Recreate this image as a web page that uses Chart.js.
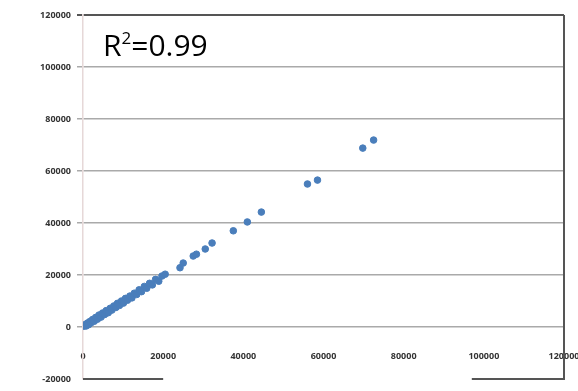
<!DOCTYPE html>
<html>
<head>
<meta charset="utf-8">
<script src="https://cdn.jsdelivr.net/npm/chart.js@4/dist/chart.umd.min.js"></script>
<style>
    html, body { margin: 0; padding: 0; background: #fff; }
    #wrap { width: 578px; height: 391px; }
</style>
</head>
<body>
<div id="wrap"><canvas id="chartR2"></canvas></div>
<script>
// valores
var xValues = [200, 500, 800, 1100, 1400, 1700, 2000, 2400, 2800, 3200, 3600, 4000, 4500, 4900, 5400,
    5800, 6300, 6800, 7200, 7700, 8200, 8600, 9100, 9600, 10100, 10600, 11100, 11700, 12200, 12800,
    13400, 14000, 14600, 15300, 15900, 16600, 17300, 18100, 18900, 19700,
    20500, 24200, 25000, 27500, 28300, 30500, 32200, 37500, 41000, 44500, 56000, 58500, 69800, 72500];
var yValues = [300, 900, 400, 1500, 900, 2100, 1600, 2900, 2200, 3700, 3000, 4600, 3800, 5400, 4800,
    6300, 5500, 7200, 6500, 8100, 7500, 9100, 8300, 10000, 9200, 11000, 10300, 11900, 11200, 13000,
    12500, 14300, 13600, 15600, 14900, 16800, 16200, 18300, 17600, 19600,
    20300, 22800, 24600, 27300, 28000, 30000, 32300, 37000, 40400, 44200, 55000, 56500, 68800, 71900];
var xTicks = [0, 20000, 40000, 60000, 80000, 100000, 120000];
var yTicks = [-20000, 0, 20000, 40000, 60000, 80000, 100000, 120000];
var r2Label = '0.99';

var GraficoR2 = function ()
{
    var _self = this;
    var chart;

    this.pontos = function ()
    {
        return xValues.map(function (x, i) {
            return {x: x, y: yValues[i]};
        });
    }

    // moldura (direita e trechos de baixo) e o texto R²
    this.molduraPlugin = {
        id: 'moldura',
        afterDraw: function (c) {
            var ctx = c.ctx;
            var a = c.chartArea;
            var xs = c.scales.x;
            ctx.save();
            ctx.strokeStyle = '#555';
            ctx.lineWidth = 2;
            ctx.beginPath();
            ctx.moveTo(a.right, a.top);
            ctx.lineTo(a.right, a.bottom);
            ctx.lineTo(xs.getPixelForValue(97000), a.bottom);
            ctx.moveTo(a.left, a.bottom);
            ctx.lineTo(xs.getPixelForValue(20000), a.bottom);
            ctx.stroke();

            ctx.fillStyle = '#000';
            ctx.textBaseline = 'alphabetic';
            ctx.font = '30px "Open Sans"';
            var tx = a.left + 20, ty = a.top + 41;
            ctx.fillText('R', tx, ty);
            tx += ctx.measureText('R').width;
            ctx.font = '17px "Open Sans"';
            ctx.fillText('2', tx, ty - 12);
            tx += ctx.measureText('2').width;
            ctx.font = '30px "Open Sans"';
            ctx.fillText('=' + r2Label, tx, ty);
            ctx.restore();
        }
    };

    this.build = function ()
    {
        chart = new Chart(document.getElementById('chartR2'), {
            type: 'scatter',
            data: {
                datasets: [{
                        data: _self.pontos(),
                        backgroundColor: '#4a7ebb',
                        borderColor: '#4a7ebb',
                        pointRadius: 3.3,
                        pointHoverRadius: 3.3
                    }]
            },
            options: {
                animation: false,
                maintainAspectRatio: false,
                responsive: true,
                layout: {
                    padding: {top: 15, right: 14, bottom: 12, left: 0}
                },
                plugins: {
                    legend: {display: false},
                    tooltip: {enabled: false}
                },
                scales: {
                    x: {
                        type: 'linear',
                        position: {y: 0},
                        min: 0,
                        max: 120000,
                        afterBuildTicks: function (axis) {
                            axis.ticks = xTicks.map(function (v) { return {value: v}; });
                        },
                        afterFit: function (axis) {
                            axis.paddingLeft = 0;
                            axis.paddingRight = 0;
                        },
                        grid: {display: false},
                        border: {display: false},
                        ticks: {
                            padding: 16,
                            maxRotation: 0,
                            autoSkip: false,
                            color: '#333',
                            font: {family: 'Open Sans', size: 9, weight: 'bold'},
                            callback: function (v) { return String(v); }
                        }
                    },
                    y: {
                        min: -20000,
                        max: 120000,
                        afterBuildTicks: function (axis) {
                            axis.ticks = yTicks.map(function (v) { return {value: v}; });
                        },
                        afterFit: function (axis) {
                            axis.width = 83;
                        },
                        grid: {
                            drawTicks: true,
                            tickLength: 6,
                            lineWidth: function (ctx) {
                                return (ctx.tick && (ctx.tick.value === 120000)) ? 2 : 1.5;
                            },
                            color: function (ctx) {
                                if (!ctx.tick) return '#aaa';
                                if (ctx.tick.value === 120000) return '#555';
                                if (ctx.tick.value === -20000) return 'rgba(0,0,0,0)';
                                return '#aaa';
                            }
                        },
                        border: {display: true, color: '#e6d8d8', width: 1.5},
                        ticks: {
                            padding: 6,
                            color: '#333',
                            font: {family: 'Open Sans', size: 9, weight: 'bold'},
                            callback: function (v) { return String(v); }
                        }
                    }
                }
            },
            plugins: [_self.molduraPlugin]
        });
    }

    this.init = function ()
    {
        if (typeof chart != 'undefined') {
            chart.destroy();
        }
        _self.build();
    }

    _self.init();
}

var Grafico = new GraficoR2();
</script>
</body>
</html>
